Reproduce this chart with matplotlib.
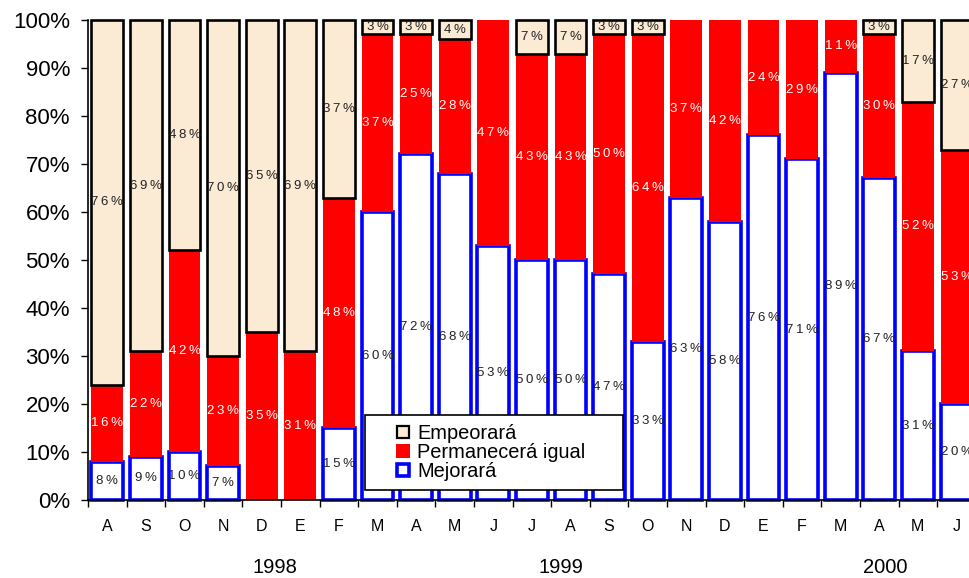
import numpy as np
import matplotlib.pyplot as plt
from matplotlib.lines import Line2D
from matplotlib.patches import Rectangle

plt.rcParams['font.family'] = ['Liberation Sans', 'DejaVu Sans']

months = ['A', 'S', 'O', 'N', 'D', 'E', 'F', 'M', 'A', 'M', 'J', 'J', 'A', 'S', 'O',
          'N', 'D', 'E', 'F', 'M', 'A', 'M', 'J']
years = ['1998', '1999', '2000']
year_pos = [4.35, 11.75, 20.15]

mejorara = [8, 9, 10, 7, 0, 0, 15, 60, 72, 68, 53, 50, 50, 47, 33, 63, 58, 76, 71, 89, 67, 31, 20]
permanecera = [16, 22, 42, 23, 35, 31, 48, 37, 25, 28, 47, 43, 43, 50, 64, 37, 42, 24, 29, 11, 30, 52, 53]
empeorara = [76, 69, 48, 70, 65, 69, 37, 3, 3, 4, 0, 7, 7, 3, 3, 0, 0, 0, 0, 0, 3, 17, 27]

beige = '#FBEBD5'
x = np.arange(len(months))
w = 0.82

fig = plt.figure(figsize=(9.69, 5.78), dpi=100)
ax = fig.add_axes([88 / 969, 1 - 500 / 578, 23 * 38.6 / 969, 480 / 578])

m = np.array(mejorara, float)
p = np.array(permanecera, float)
e = np.array(empeorara, float)


def spaced(s):
    # a little tracking between characters
    return '\u2009'.join(s)


def stack(vals, bottom, face, edge, lw, txtcol):
    keep = vals > 0
    ax.bar(x[keep], vals[keep], w, bottom=bottom[keep], color=face,
           edgecolor=edge, linewidth=lw, zorder=2, clip_on=False)
    for xi, v, b in zip(x[keep], vals[keep], bottom[keep]):
        ax.text(xi, b + v / 2, spaced(f'{int(v)}%'), ha='center', va='center',
                fontsize=9.5, color=txtcol, zorder=3)


stack(m, np.zeros_like(m), 'white', '#0000FF', 2.6, '#222222')
stack(p, m, '#FF0000', 'none', 0, 'white')
stack(e, m + p, beige, 'black', 1.9, '#222222')

ax.set_ylim(0, 100)
ax.set_xlim(-0.5, len(months) - 0.5)
ax.set_yticks(range(0, 101, 10))
ax.set_yticklabels([f'{v}%' for v in range(0, 101, 10)], fontsize=16)
ax.tick_params(axis='y', length=5, width=1, pad=8)

ax.set_xticks(x)
ax.set_xticklabels(months, fontsize=11.5)
ax.tick_params(axis='x', which='major', length=0, pad=14)
ax.set_xticks(np.arange(-0.5, len(months), 1), minor=True)
ax.tick_params(axis='x', which='minor', length=5, width=1)

for s in ['top', 'right']:
    ax.spines[s].set_visible(False)
for s in ['left', 'bottom']:
    ax.spines[s].set_linewidth(1.2)
    ax.spines[s].set_zorder(4)

for yr, xp in zip(years, year_pos):
    ax.text(xp, -0.14, yr, transform=ax.get_xaxis_transform(),
            ha='center', va='center', fontsize=14.5)

# legend box
box = Rectangle((365 / 969, 1 - 490 / 578), 258 / 969, 75 / 578,
                transform=fig.transFigure, facecolor='white', edgecolor='black',
                linewidth=1.2, zorder=5)
ax.add_artist(box)
handles = [
    Line2D([], [], marker='s', ls='none', markersize=9, markerfacecolor=beige,
           markeredgecolor='black', markeredgewidth=1.6),
    Line2D([], [], marker='s', ls='none', markersize=10.5, markerfacecolor='#FF0000',
           markeredgecolor='#FF0000', markeredgewidth=0),
    Line2D([], [], marker='s', ls='none', markersize=9, markerfacecolor='white',
           markeredgecolor='#0000FF', markeredgewidth=2.6),
]
leg = ax.legend(handles, ['Empeorará', 'Permanecerá igual', 'Mejorará'],
                loc='upper left', bbox_to_anchor=(395 / 969, 1 - 424 / 578),
                bbox_transform=fig.transFigure, frameon=False, fontsize=14.4,
                handlelength=0.8, handletextpad=0.3, labelspacing=0.0,
                borderpad=0, borderaxespad=0, numpoints=1)
leg.set_zorder(6)

fig.savefig('out.png', dpi=100)
